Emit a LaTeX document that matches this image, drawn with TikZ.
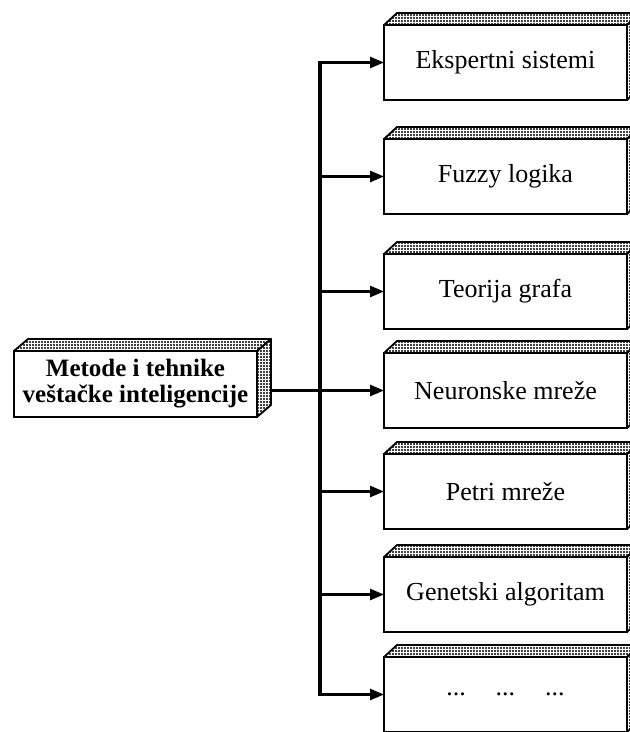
\documentclass[tikz,border=0pt]{standalone}
\usepackage{fontspec}
\setmainfont{Liberation Serif}
\usetikzlibrary{arrows.meta,patterns,calc}

% fine stipple used on the top and side faces of the slabs
\pgfdeclarepatternformonly{stipple}{\pgfqpoint{-0.4pt}{-0.4pt}}{\pgfqpoint{0.4pt}{0.4pt}}{\pgfqpoint{1.5pt}{1.5pt}}{%
  \pgfpathrectangle{\pgfqpoint{-0.28pt}{-0.28pt}}{\pgfqpoint{0.56pt}{0.56pt}}\pgfusepath{fill}}

\begin{document}
\begin{tikzpicture}[x=0.5pt,y=-0.5pt,
  slab/.style={draw=black, line width=0.9pt, fill=white, outer sep=0pt, inner sep=0pt,
    minimum width=121.5pt, minimum height=37.5pt, font=\fontsize{13}{15}\selectfont},
  mainslab/.style={slab, minimum height=33pt, align=center,
    font=\bfseries\fontsize{12.5}{12}\selectfont},
  shade/.style={draw=black, line width=0.9pt, pattern=stipple, pattern color=black!75,
    line join=round},
  trunkline/.style={line width=1.6pt, line cap=rect},
  branch/.style={line width=1.3pt, -{Triangle[length=7pt,width=5.5pt]}},
]
\clip (0,0) rectangle (630,732);
\fill[white] (0,0) rectangle (630,732);

% method boxes on the right
\node[slab] (b1) at (505.5,62.5) {Ekspertni sistemi};
\node[slab] (b2) at (505.5,176.5) {Fuzzy logika};
\node[slab] (b3) at (505.5,291.5) {Teorija grafa};
\node[slab] (b4) at (505.5,390.5) {Neuronske mreže};
\node[slab] (b5) at (505.5,491.5) {Petri mreže};
\node[slab] (b6) at (505.5,594.5) {Genetski algoritam};
\node[slab] (b7) at (505.5,694.5) {...\hspace{15pt}...\hspace{15pt}...};

% top and side faces of the right boxes
\foreach \b in {b1,b2,b3,b4,b5,b6,b7}{
  \filldraw[shade] (\b.north west) -- ++(13,-12) -- ($(\b.north east)+(13,-12)$)
    -- (\b.north east) -- cycle;
  \filldraw[shade] (\b.north east) -- ++(13,-12) -- ($(\b.south east)+(13,-12)$)
    -- (\b.south east) -- cycle;
}

% root box on the left
\node[mainslab] (m) at (135.5,384) {\raisebox{-2pt}{Metode i tehnike}\\[1pt]\raisebox{-2pt}{veštačke inteligencije}};
\filldraw[shade] (m.north west) -- ++(14,-12) -- ($(m.north east)+(14,-12)$)
  -- (m.north east) -- cycle;
\filldraw[shade] (m.north east) -- ++(14,-12) -- ($(m.south east)+(14,-12)$)
  -- (m.south east) -- cycle;

% connectors
\coordinate (trunk) at (320,0);
\coordinate (mout) at ($(b4.west -| m.east)+(14,0)$);
\draw[trunkline] (b1.west -| trunk) -- (b7.west -| trunk);
\draw[line width=1.3pt] (mout) -- (b4.west -| trunk);
\foreach \b in {b1,b2,b3,b4,b5,b6,b7}{
  \draw[branch] (\b.west -| trunk) -- (\b.west);
}
\end{tikzpicture}
\end{document}
